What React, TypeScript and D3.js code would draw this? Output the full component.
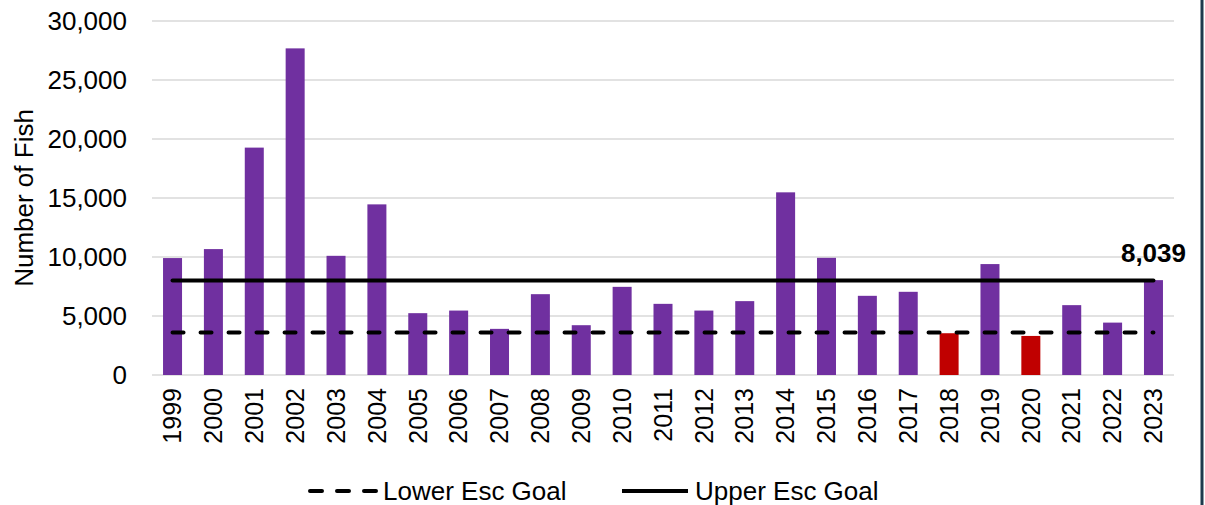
import React, { useRef, useEffect } from "react";
import * as d3 from "d3";

const years = [
  "1999", "2000", "2001", "2002", "2003", "2004", "2005", "2006", "2007", "2008",
  "2009", "2010", "2011", "2012", "2013", "2014", "2015", "2016", "2017", "2018",
  "2019", "2020", "2021", "2022", "2023",
];
const fishCounts = [
  9910, 10670, 19270, 27680, 10100, 14460, 5240, 5460, 3910, 6850,
  4220, 7470, 6030, 5460, 6260, 15480, 9930, 6710, 7050, 3540,
  9400, 3310, 5920, 4440, 8039,
];
// years that missed the lower goal are drawn red
const missedGoal = ["2018", "2020"];
const lowerGoal = 3600;
const upperGoal = 8000;
const yTicks = [0, 5000, 10000, 15000, 20000, 25000, 30000];
const lastLabel = "8,039";

const App = () => {
  const chartRef = useRef<SVGSVGElement | null>(null);

  useEffect(() => {
    document.body.style.margin = "0";
    const width = 1205;
    const height = 505;
    const margin = { top: 21, right: 31, bottom: 130, left: 152 };
    const innerW = width - margin.left - margin.right;
    const innerH = height - margin.top - margin.bottom;
    const font = "'Liberation Sans', Arial, sans-serif";

    const svg = d3.select(chartRef.current);
    svg.selectAll("*").remove();
    svg.attr("width", width).attr("height", height);

    svg.append("rect").attr("width", width).attr("height", height).attr("fill", "#fff");

    const g = svg.append("g").attr("transform", `translate(${margin.left},${margin.top})`);

    const x = d3.scaleBand().domain(years).range([0, innerW]).paddingInner(0.535).paddingOuter(0.27);
    const y = d3.scaleLinear().domain([0, 30000]).range([innerH, 0]);

    // gridlines
    g.selectAll(".grid")
      .data(yTicks)
      .enter()
      .append("line")
      .attr("x1", 0)
      .attr("x2", innerW)
      .attr("y1", (d) => y(d))
      .attr("y2", (d) => y(d))
      .attr("stroke", "#d9d9d9")
      .attr("stroke-width", 1.5);

    // y tick labels
    g.selectAll(".ytick")
      .data(yTicks)
      .enter()
      .append("text")
      .attr("x", -25)
      .attr("y", (d) => y(d))
      .attr("dy", "0.35em")
      .attr("text-anchor", "end")
      .style("font-family", font)
      .style("font-size", "26px")
      .attr("fill", "#000")
      .text((d) => d3.format(",")(d));

    // y title
    svg.append("text")
      .attr("transform", `translate(33,${margin.top + innerH / 2}) rotate(-90)`)
      .attr("text-anchor", "middle")
      .style("font-family", font)
      .style("font-size", "26px")
      .attr("fill", "#000")
      .text("Number of Fish");

    // bars
    g.selectAll(".bar")
      .data(years)
      .enter()
      .append("rect")
      .attr("x", (d) => x(d)!)
      .attr("y", (d, i) => y(fishCounts[i]))
      .attr("width", x.bandwidth())
      .attr("height", (d, i) => innerH - y(fishCounts[i]))
      .attr("fill", (d) => (missedGoal.includes(d) ? "#c00000" : "#7030a0"));

    // x tick labels
    g.selectAll(".xtick")
      .data(years)
      .enter()
      .append("text")
      .attr("transform", (d) => `translate(${x(d)! + x.bandwidth() / 2},${innerH + 13}) rotate(-90)`)
      .attr("dy", "0.35em")
      .attr("text-anchor", "end")
      .style("font-family", font)
      .style("font-size", "25px")
      .attr("fill", "#000")
      .text((d) => d);

    // goal lines, first to last category centre
    const x0 = x(years[0])! + x.bandwidth() / 2;
    const x1 = x(years[years.length - 1])! + x.bandwidth() / 2;
    g.append("line")
      .attr("x1", x0).attr("x2", x1)
      .attr("y1", y(upperGoal)).attr("y2", y(upperGoal))
      .attr("stroke", "#000").attr("stroke-width", 4).attr("stroke-linecap", "round");
    g.append("line")
      .attr("x1", x0).attr("x2", x1)
      .attr("y1", y(lowerGoal)).attr("y2", y(lowerGoal))
      .attr("stroke", "#000").attr("stroke-width", 4)
      .attr("stroke-linecap", "round").attr("stroke-dasharray", "11,17");

    // label on the last year
    g.append("text")
      .attr("x", x1)
      .attr("y", y(fishCounts[fishCounts.length - 1]) - 18)
      .attr("text-anchor", "middle")
      .style("font-family", font)
      .style("font-size", "26px")
      .style("font-weight", "bold")
      .attr("fill", "#000")
      .text(lastLabel);

    // legend
    const legend = svg.append("g").attr("transform", "translate(0,491)");
    const items = [
      { label: "Lower Esc Goal", dash: "11,17", x: 310 },
      { label: "Upper Esc Goal", dash: null, x: 622 },
    ];
    items.forEach((it) => {
      const line = legend.append("line")
        .attr("x1", it.x).attr("x2", it.x + 66)
        .attr("y1", 0).attr("y2", 0)
        .attr("stroke", "#000").attr("stroke-width", 4)
        .attr("stroke-linecap", it.dash ? "round" : "butt");
      if (it.dash) line.attr("stroke-dasharray", "12,15");
      legend.append("text")
        .attr("x", it.x + 73)
        .attr("y", 0)
        .attr("dy", "0.35em")
        .style("font-family", font)
        .style("font-size", "26px")
        .attr("fill", "#000")
        .text(it.label);
    });

    // right frame edge
    svg.append("line")
      .attr("x1", 1202).attr("x2", 1202)
      .attr("y1", 0).attr("y2", height)
      .attr("stroke", "#1d3a4c").attr("stroke-width", 3);
  }, []);

  return <svg ref={chartRef} style={{ display: "block" }}></svg>;
};

export default App;
